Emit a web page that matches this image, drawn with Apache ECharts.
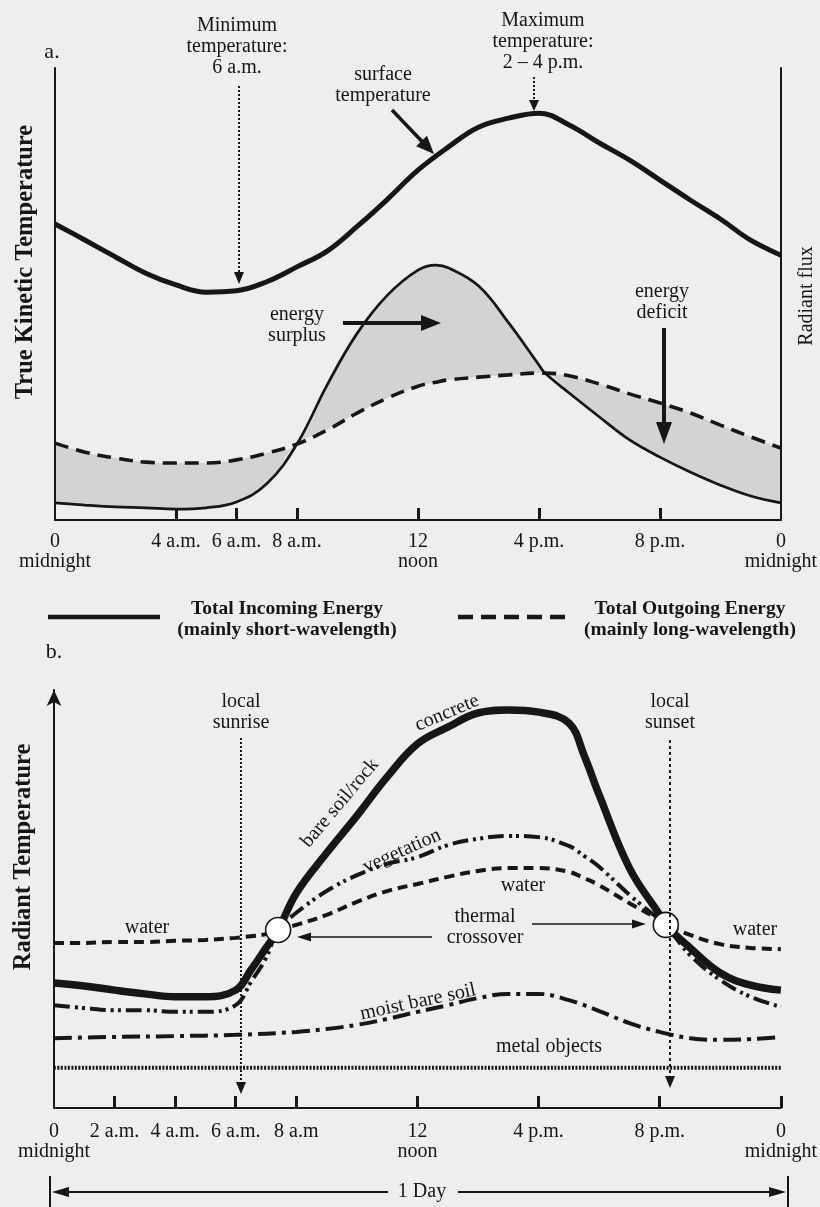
<!DOCTYPE html>
<html>
<head>
<meta charset="utf-8">
<script src="https://cdn.jsdelivr.net/npm/echarts@6/dist/echarts.min.js"></script>
<style>
  html, body { margin: 0; padding: 0; background: #eeeeee; }
  #chart { width: 820px; height: 1207px; }
</style>
</head>
<body>
<div id="chart"></div>
<script>
// ---------- Panel a: diurnal energy budget and surface temperature ----------
const energyHours = [0,1,2,3,4,5,6,7,8,9,10,11,12,12.6,13,14,15,16,16.2,17,18,19,20,21,22,23,24];
const incomingEnergy = [3.8,3.3,2.9,2.7,2.4,2.7,4.0,8.0,16.8,29.9,41.4,49.8,55.3,56.4,55.8,51.8,43.6,34.3,32.5,28.1,22.8,17.7,13.9,10.6,7.7,5.3,3.8];
const outgoingEnergy = [17.0,15.0,13.7,12.8,12.6,12.6,13.3,14.8,16.8,19.9,23.7,27.0,29.6,30.5,31.0,31.6,32.1,32.5,32.5,31.9,30.1,27.9,25.9,23.7,21.0,18.4,15.9];
const surfaceHours = [0,1,2,3,4,5,6,7,8,9,10,11,12,13,14,15,16,17,18,19,20,21,22,23,24];
const surfaceTemperature = [65.5,61.9,58.2,54.6,52.0,50.4,50.7,52.7,56.0,59.5,65.0,71.0,77.4,82.5,86.9,88.9,90.0,87.4,83.4,79.6,75.2,70.8,66.6,61.9,58.6];
const tickHoursA = [4,6,8,12,16,20];
const labelHoursA = [0,4,6,8,12,16,20,24];
const labelTextA = ['0\nmidnight','4 a.m.','6 a.m.','8 a.m.','12\nnoon','4 p.m.','8 p.m.','0\nmidnight'];

// ---------- Panel b: radiant temperature of surface materials ----------
const radiantHours = [0,1,2,3,4,5,6,6.5,7,7.4,8,9,10,11,12,13,14,15,16,17,17.5,18,19,20,20.2,21,22,23,24];
const concrete = [29.9,29.2,28.2,27.3,26.6,26.6,28.2,33.0,38.3,42.6,51.4,61.0,69.9,79.2,87.1,91.1,94.5,95.2,94.7,92.1,84.4,74.9,57.4,46.2,43.8,38.3,32.3,29.4,28.2];
const vegetation = [24.6,23.9,23.4,23.4,23.0,23.0,24.6,30.1,35.9,42.6,46.7,51.9,55.7,58.4,60.0,62.9,64.4,65.1,64.8,62.7,60.3,57.7,51.0,45.0,43.8,36.6,30.6,26.6,24.2];
const water = [39.5,39.5,39.7,39.7,40.0,40.2,40.7,41.1,41.6,42.6,43.8,46.2,49.3,51.9,53.6,55.3,56.7,57.4,57.4,56.5,55.0,53.3,49.0,45.0,43.8,41.4,39.2,38.3,38.0];
const moistHours = [0,2,4,6,8,9,10,11,12,13,14,15,16,17,18,19,20,21,22,23,24];
const moistBareSoil = [16.7,17.0,17.2,17.5,18.2,18.9,19.9,21.3,23.0,24.6,26.3,27.3,27.3,25.8,23.2,20.3,18.2,16.7,16.3,16.5,17.0];
const metalHours = [0,6,12,18,24];
const metalObjects = [9.6,9.6,9.6,9.6,9.6];
const crossoverHours = [7.4,20.2];
const crossoverTemps = [42.6,43.8];
const tickHoursB = [4,6,8,12,16,20,24];
const labelHoursB = [0,4,6,8,12,16,20,24];
const labelTextB = ['0\nmidnight','4 a.m.','6 a.m.','8 a.m','12\nnoon','4 p.m.','8 p.m.','0\nmidnight'];
// the 2 a.m. mark sits right against "midnight", so it gets an axis of its own
const tickHoursB2 = [2];
const labelTextB2 = ['2 a.m.'];

const FONT = '"Liberation Serif", "Times New Roman", serif';
const INK = '#161616';
const PAPER = '#eeeeee';
const SHADE = '#d3d3d3';

const zip = (xs, ys) => xs.map((x, i) => [x, ys[i]]);
// envelope of the two energy curves: the gap between them is shaded
const energyUpper = incomingEnergy.map((v, i) => Math.max(v, outgoingEnergy[i]));
const energyLower = incomingEnergy.map((v, i) => Math.min(v, outgoingEnergy[i]));

function xAxisFor(grid, ticks, labelHours, labelText, margin, showLine) {
  return {
    type: 'value', gridIndex: grid, min: 0, max: 24, z: 10, position: 'bottom',
    axisLine: { show: showLine !== false, onZero: false, lineStyle: { color: INK, width: 2 } },
    axisTick: { show: true, inside: true, length: 12, customValues: ticks, lineStyle: { color: INK, width: 3 } },
    axisLabel: {
      customValues: labelHours, showMinLabel: true, showMaxLabel: true, hideOverlap: false,
      formatter: v => labelText[labelHours.indexOf(v)] || '',
      fontFamily: FONT, fontSize: 20, color: INK, lineHeight: 20, margin: margin
    },
    splitLine: { show: false }
  };
}
function yAxisFor(grid, position, symbol) {
  return {
    type: 'value', gridIndex: grid, min: 0, max: 100, position: position, z: 10,
    axisLine: { show: true, onZero: false, symbol: symbol || 'none', symbolSize: [11, 16], symbolOffset: [0, 0],
                lineStyle: { color: INK, width: 2 } },
    axisTick: { show: false }, axisLabel: { show: false }, splitLine: { show: false }
  };
}
function line(name, xi, yi, xs, ys, width, type, extra) {
  return Object.assign({
    name: name, type: 'line', xAxisIndex: xi, yAxisIndex: yi,
    data: zip(xs, ys), smooth: 0.4, symbol: 'none', silent: true,
    lineStyle: { color: INK, width: width, type: type || 'solid', cap: 'butt' }, z: 3
  }, extra || {});
}

// annotation helpers (pixel space)
function head(x1, y1, x2, y2, len, half) {
  const a = Math.atan2(y2 - y1, x2 - x1);
  const bx = x2 - len * Math.cos(a), by = y2 - len * Math.sin(a);
  const s = Math.sin(a), c = Math.cos(a);
  return { type: 'polygon', z: 50, shape: { points: [[x2, y2], [bx + half * s, by - half * c], [bx - half * s, by + half * c]] },
           style: { fill: INK } };
}
function arrow(x1, y1, x2, y2, width, len, half, dash) {
  const a = Math.atan2(y2 - y1, x2 - x1);
  const ex = x2 - (len - 1) * Math.cos(a), ey = y2 - (len - 1) * Math.sin(a);
  return [
    { type: 'line', z: 50, shape: { x1: x1, y1: y1, x2: ex, y2: ey },
      style: { stroke: INK, lineWidth: width, lineDash: dash || null } },
    head(x1, y1, x2, y2, len, half)
  ];
}
function text(str, x, y, opts) {
  opts = opts || {};
  return {
    type: 'text', x: x, y: y, z: 60, rotation: (opts.rotate || 0) * Math.PI / 180,
    style: {
      text: str, fill: INK, fontFamily: FONT, fontSize: opts.size || 20,
      fontWeight: opts.bold ? 'bold' : 'normal', lineHeight: opts.lh || 21,
      align: opts.align || 'center', verticalAlign: 'middle',
      textAlign: opts.align || 'center', textVerticalAlign: 'middle'
    }
  };
}

const graphics = [].concat(
  // panel a labels
  text('a.', 52, 52, { size: 22 }),
  text('True Kinetic Temperature', 26, 262, { size: 24.5, bold: true, rotate: 90 }),
  text('Radiant flux', 807, 296, { size: 20, rotate: 90 }),
  text('Minimum\ntemperature:\n6 a.m.', 237, 47),
  arrow(239, 86, 239, 284, 2, 12, 5, [2, 2]),
  text('Maximum\ntemperature:\n2 – 4 p.m.', 543, 42),
  arrow(534, 77, 534, 111, 2, 11, 5, [2, 2]),
  text('surface\ntemperature', 383, 85),
  arrow(392, 110, 434, 154, 3.5, 18, 7.5),
  text('energy\nsurplus', 297, 325),
  arrow(343, 323, 441, 323, 4, 20, 8),
  text('energy\ndeficit', 662, 302),
  arrow(664, 328, 664, 444, 4, 22, 8),

  // legend
  [{ type: 'line', z: 50, shape: { x1: 48, y1: 617, x2: 160, y2: 617 }, style: { stroke: INK, lineWidth: 4.5 } }],
  text('Total Incoming Energy\n(mainly short-wavelength)', 287, 619, { size: 19.5, bold: true }),
  [{ type: 'line', z: 50, shape: { x1: 458, y1: 617, x2: 568, y2: 617 }, style: { stroke: INK, lineWidth: 4.5, lineDash: [15, 8] } }],
  text('Total Outgoing Energy\n(mainly long-wavelength)', 690, 619, { size: 19.5, bold: true }),

  // panel b labels
  text('b.', 54, 652, { size: 22 }),
  text('Radiant Temperature', 24, 857, { size: 24.5, bold: true, rotate: 90 }),
  text('local\nsunrise', 241, 712),
  arrow(241, 738, 241, 1094, 2, 12, 5, [2, 2]),
  text('local\nsunset', 670, 712),
  arrow(670, 740, 670, 1088, 2, 12, 5, [3, 3]),
  text('water', 147, 928),
  text('bare soil/rock', 340, 803, { rotate: 50 }),
  text('concrete', 447, 713, { rotate: 23 }),
  text('vegetation', 402, 851, { rotate: 24 }),
  text('water', 523, 886),
  text('thermal\ncrossover', 485, 927),
  arrow(432, 937, 297, 937, 1.5, 14, 4.5),
  arrow(532, 924, 646, 924, 1.5, 14, 4.5),
  text('water', 755, 930),
  text('moist bare soil', 418, 1002, { rotate: 12 }),
  text('metal objects', 549, 1047),
  text('1 Day', 422, 1192),
  arrow(388, 1192, 52, 1192, 2, 17, 5),
  arrow(458, 1192, 786, 1192, 2, 17, 5),
  [{ type: 'line', z: 50, shape: { x1: 50, y1: 1176, x2: 50, y2: 1207 }, style: { stroke: INK, lineWidth: 2 } },
   { type: 'line', z: 50, shape: { x1: 788, y1: 1176, x2: 788, y2: 1207 }, style: { stroke: INK, lineWidth: 2 } }]
);

const chart = echarts.init(document.getElementById('chart'), null, { renderer: 'canvas' });
chart.setOption({
  backgroundColor: PAPER,
  animation: false,
  grid: [
    { left: 55, right: 37, top: 68, bottom: 687 },
    { left: 54, right: 32, top: 690, bottom: 99 }
  ],
  xAxis: [
    xAxisFor(0, tickHoursA, labelHoursA, labelTextA, 12),
    xAxisFor(1, tickHoursB, labelHoursB, labelTextB, 14),
    xAxisFor(1, tickHoursB2, tickHoursB2, labelTextB2, 14, false)
  ],
  yAxis: [
    yAxisFor(0, 'left'),
    yAxisFor(0, 'right'),
    yAxisFor(1, 'left', ['none', 'arrow'])
  ],
  series: [
    // shaded gap between incoming and outgoing energy: grey under the upper
    // envelope, paper colour under the lower envelope
    line('energy gap', 0, 0, energyHours, energyUpper, 0, 'solid',
         { lineStyle: { width: 0, opacity: 0 }, areaStyle: { color: SHADE, opacity: 1, origin: 'start' }, z: 1 }),
    line('energy floor', 0, 0, energyHours, energyLower, 0, 'solid',
         { lineStyle: { width: 0, opacity: 0 }, areaStyle: { color: PAPER, opacity: 1, origin: 'start' }, z: 1 }),
    line('Total Incoming Energy', 0, 0, energyHours, incomingEnergy, 2.7),
    line('Total Outgoing Energy', 0, 0, energyHours, outgoingEnergy, 3.6, [14, 8]),
    line('surface temperature', 0, 0, surfaceHours, surfaceTemperature, 5),

    line('metal objects', 1, 2, metalHours, metalObjects, 4, [2, 1.5]),
    line('moist bare soil', 1, 2, moistHours, moistBareSoil, 4, [18, 6, 4, 6]),
    line('water', 1, 2, radiantHours, water, 4, [10, 6]),
    line('vegetation', 1, 2, radiantHours, vegetation, 4, [16, 5, 3, 4, 3, 5]),
    line('concrete', 1, 2, radiantHours, concrete, 7.5),
    {
      name: 'thermal crossover', type: 'scatter', xAxisIndex: 1, yAxisIndex: 2,
      data: zip(crossoverHours, crossoverTemps), symbol: 'circle', symbolSize: 25, silent: true,
      itemStyle: { color: '#ffffff', borderColor: INK, borderWidth: 1.6, opacity: 1 }, z: 10
    }
  ],
  graphic: graphics
});
</script>
</body>
</html>
